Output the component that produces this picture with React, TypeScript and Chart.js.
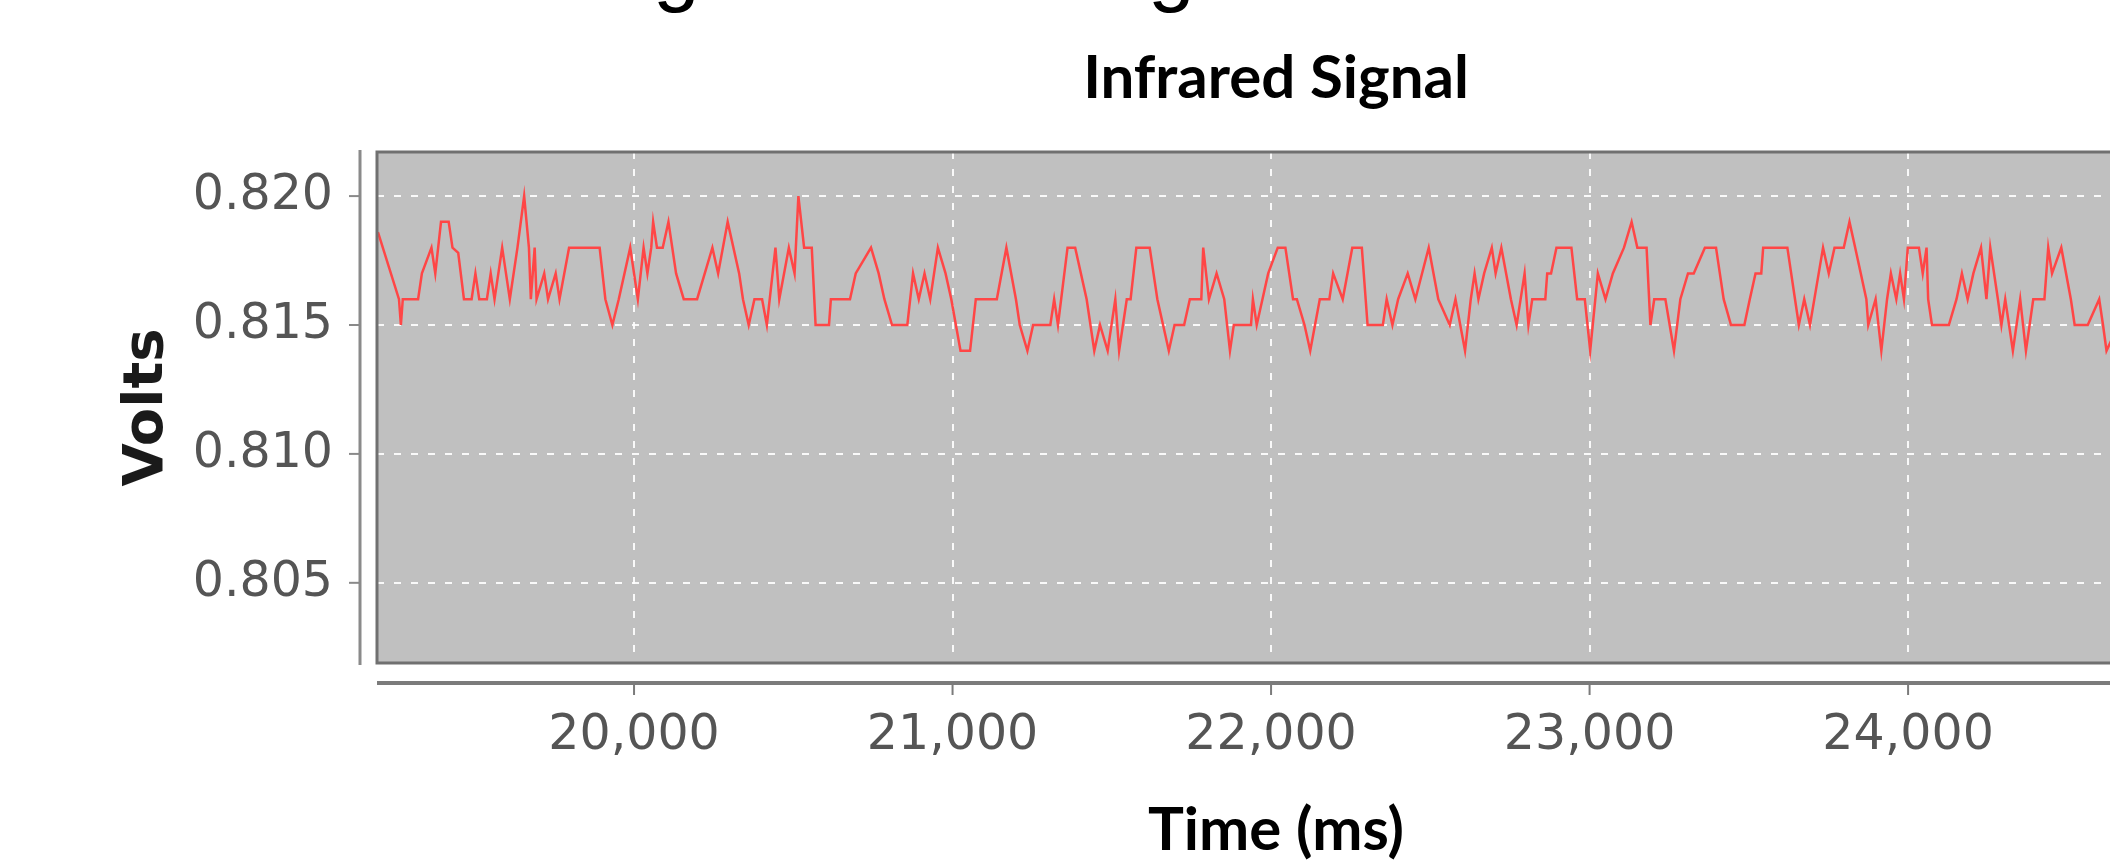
import React, { useEffect, useRef } from 'react';
import { Chart, registerables } from 'chart.js';

Chart.register(...registerables);

// ---- data (time in ms, signal in volts) ----
const timesMs = [
  19196, 19262, 19268, 19274, 19322, 19334, 19364, 19376, 19394, 19418, 19430, 19448, 19466, 19490, 19502, 19514,
  19538, 19550, 19562, 19586, 19610, 19634, 19655, 19670, 19676, 19688, 19694, 19718, 19730, 19754, 19766, 19796,
  19892, 19910, 19932, 19952, 19988, 20012, 20030, 20042, 20054, 20060, 20072, 20090, 20108, 20132, 20156, 20198,
  20246, 20264, 20294, 20330, 20342, 20360, 20378, 20402, 20417, 20444, 20456, 20486, 20504, 20516, 20534, 20558,
  20570, 20612, 20618, 20678, 20696, 20744, 20768, 20786, 20810, 20858, 20876, 20894, 20912, 20930, 20954, 20978,
  20996, 21025, 21055, 21073, 21139, 21169, 21199, 21211, 21235, 21253, 21307, 21319, 21331, 21361, 21385, 21421,
  21445, 21463, 21487, 21511, 21523, 21547, 21559, 21577, 21619, 21643, 21661, 21679, 21697, 21727, 21745, 21781,
  21787, 21805, 21829, 21853, 21871, 21883, 21937, 21943, 21955, 21991, 22021, 22045, 22069, 22081, 22105, 22123,
  22153, 22183, 22195, 22225, 22255, 22285, 22297, 22303, 22351, 22363, 22381, 22399, 22429, 22453, 22495, 22525,
  22561, 22579, 22609, 22627, 22639, 22651, 22669, 22693, 22705, 22723, 22753, 22771, 22796, 22808, 22820, 22861,
  22867, 22879, 22896, 22943, 22961, 22985, 23002, 23026, 23050, 23073, 23108, 23132, 23150, 23179, 23191, 23203,
  23238, 23265, 23285, 23309, 23327, 23362, 23397, 23421, 23444, 23486, 23503, 23521, 23539, 23545, 23621, 23645,
  23657, 23674, 23692, 23733, 23751, 23769, 23798, 23816, 23834, 23869, 23875, 23898, 23916, 23934, 23946, 23963,
  23975, 23987, 23999, 24034, 24046, 24058, 24063, 24075, 24128, 24152, 24169, 24187, 24205, 24229, 24246, 24258,
  24282, 24293, 24305, 24329, 24352, 24370, 24393, 24428, 24440, 24452, 24481, 24511, 24523, 24564, 24600, 24612,
  24623, 24660,
];

const volts = [
  0.8186, 0.816, 0.815, 0.816, 0.816, 0.817, 0.818, 0.817, 0.819, 0.819, 0.818, 0.8178, 0.816, 0.816, 0.817, 0.816,
  0.816, 0.817, 0.816, 0.818, 0.816, 0.818, 0.82, 0.818, 0.816, 0.818, 0.816, 0.817, 0.816, 0.817, 0.816, 0.818,
  0.818, 0.816, 0.815, 0.816, 0.818, 0.816, 0.818, 0.817, 0.818, 0.819, 0.818, 0.818, 0.819, 0.817, 0.816, 0.816,
  0.818, 0.817, 0.819, 0.817, 0.816, 0.815, 0.816, 0.816, 0.815, 0.818, 0.816, 0.818, 0.817, 0.82, 0.818, 0.818,
  0.815, 0.815, 0.816, 0.816, 0.817, 0.818, 0.817, 0.816, 0.815, 0.815, 0.817, 0.816, 0.817, 0.816, 0.818, 0.817,
  0.816, 0.814, 0.814, 0.816, 0.816, 0.818, 0.816, 0.815, 0.814, 0.815, 0.815, 0.816, 0.815, 0.818, 0.818, 0.816,
  0.814, 0.815, 0.814, 0.816, 0.814, 0.816, 0.816, 0.818, 0.818, 0.816, 0.815, 0.814, 0.815, 0.815, 0.816, 0.816,
  0.818, 0.816, 0.817, 0.816, 0.814, 0.815, 0.815, 0.816, 0.815, 0.817, 0.818, 0.818, 0.816, 0.816, 0.815, 0.814,
  0.816, 0.816, 0.817, 0.816, 0.818, 0.818, 0.816, 0.815, 0.815, 0.816, 0.815, 0.816, 0.817, 0.816, 0.818, 0.816,
  0.815, 0.816, 0.814, 0.816, 0.817, 0.816, 0.817, 0.818, 0.817, 0.818, 0.816, 0.815, 0.817, 0.815, 0.816, 0.816,
  0.817, 0.817, 0.818, 0.818, 0.816, 0.816, 0.814, 0.817, 0.816, 0.817, 0.818, 0.819, 0.818, 0.818, 0.815, 0.816,
  0.816, 0.814, 0.816, 0.817, 0.817, 0.818, 0.818, 0.816, 0.815, 0.815, 0.816, 0.817, 0.817, 0.818, 0.818, 0.816,
  0.815, 0.816, 0.815, 0.818, 0.817, 0.818, 0.818, 0.819, 0.818, 0.816, 0.815, 0.816, 0.814, 0.816, 0.817, 0.816,
  0.817, 0.816, 0.818, 0.818, 0.817, 0.818, 0.816, 0.815, 0.815, 0.816, 0.817, 0.816, 0.817, 0.818, 0.816, 0.818,
  0.816, 0.815, 0.816, 0.814, 0.816, 0.814, 0.816, 0.816, 0.818, 0.817, 0.818, 0.816, 0.815, 0.815, 0.816, 0.815,
  0.814, 0.815,
];

const chartTitle = 'Infrared Signal';
const xAxisTitle = 'Time (ms)';
const yAxisTitle = 'Volts';
const xRange = [19193, 24838];
const yRange = [0.80189, 0.82171];
const xTickValues = [20000, 21000, 22000, 23000, 24000];
const yTickValues = [0.805, 0.81, 0.815, 0.82];
// partially visible glyphs of a cropped heading above the chart
const croppedHeadingGlyphs = ['g', 'g'];

const framePlugin = {
  id: 'frame',
  beforeDraw(chart: any) {
    const { ctx, chartArea: a } = chart;
    ctx.save();
    ctx.fillStyle = '#c0c0c0';
    ctx.fillRect(a.left, a.top, a.right - a.left, a.bottom - a.top);
    ctx.restore();
  },
  afterDraw(chart: any) {
    const { ctx, chartArea: a, scales } = chart;
    const line = (x1: number, y1: number, x2: number, y2: number) => {
      ctx.beginPath();
      ctx.moveTo(x1, y1);
      ctx.lineTo(x2, y2);
      ctx.stroke();
    };
    ctx.save();
    // plot frame
    ctx.strokeStyle = '#707070';
    ctx.lineWidth = 3;
    ctx.strokeRect(a.left, a.top, a.right - a.left, a.bottom - a.top);
    // detached y axis line + ticks
    const ax = a.left - 17;
    ctx.strokeStyle = '#8a8a8a';
    ctx.lineWidth = 3;
    line(ax, a.top - 2, ax, a.bottom + 2);
    ctx.lineWidth = 2;
    for (const t of scales.y.ticks) {
      const y = scales.y.getPixelForValue(t.value);
      line(ax - 11, y, ax, y);
    }
    // detached x axis line + ticks
    const ay = a.bottom + 20;
    ctx.strokeStyle = '#7b7b7b';
    ctx.lineWidth = 4;
    line(a.left, ay, a.right, ay);
    ctx.lineWidth = 2;
    for (const t of scales.x.ticks) {
      const x = scales.x.getPixelForValue(t.value);
      line(x, ay, x, ay + 12);
    }
    // cropped heading glyphs at the very top
    ctx.fillStyle = '#000';
    ctx.font = '84px "Liberation Sans"';
    ctx.textBaseline = 'alphabetic';
    ctx.fillText(croppedHeadingGlyphs[0], 653, -4);
    ctx.fillText(croppedHeadingGlyphs[1], 1148, -4);
    ctx.restore();
  },
};

export default function App() {
  const ref = useRef<HTMLCanvasElement>(null);

  useEffect(() => {
    if (!ref.current) return;
    const points = timesMs.map((t, i) => ({ x: t, y: volts[i] }));
    const chart = new Chart(ref.current, {
      type: 'line',
      data: {
        datasets: [
          {
            data: points,
            borderColor: 'rgb(255, 70, 70)',
            borderWidth: 2.5,
            pointRadius: 0,
            tension: 0,
            fill: false,
          },
        ],
      },
      options: {
        responsive: false,
        animation: false,
        devicePixelRatio: 1,
        layout: { padding: { left: 0, right: 25, top: 0, bottom: 0 } },
        plugins: {
          legend: { display: false },
          tooltip: { enabled: false },
          title: {
            display: true,
            text: chartTitle,
            fullSize: false,
            color: '#000',
            font: { family: 'Lato', weight: 'bold', size: 60, lineHeight: 1.2 },
            padding: { top: 43, bottom: 37 },
          },
        },
        scales: {
          x: {
            type: 'linear',
            min: xRange[0],
            max: xRange[1],
            afterFit: (s: any) => {
              s.height = 198;
            },
            afterBuildTicks: (s: any) => {
              s.ticks = xTickValues.map((v) => ({ value: v }));
            },
            ticks: {
              autoSkip: false,
              maxRotation: 0,
              minRotation: 0,
              padding: 44,
              color: '#555',
              font: { family: 'DejaVu Sans', size: 49 },
              callback: (v: any) => Number(v).toLocaleString('en-US'),
            },
            grid: {
              color: 'rgba(255,255,255,0.9)',
              lineWidth: 2,
              drawTicks: false,
            },
            border: { display: false, dash: [7, 10] },
            title: {
              display: true,
              text: xAxisTitle,
              color: '#000',
              font: { family: 'Lato', weight: 'bold', size: 60, lineHeight: 1 },
              padding: { top: 0, bottom: 0 },
            },
          },
          y: {
            type: 'linear',
            min: yRange[0],
            max: yRange[1],
            afterFit: (s: any) => {
              s.width = 377;
            },
            afterBuildTicks: (s: any) => {
              s.ticks = yTickValues.map((v) => ({ value: v }));
            },
            ticks: {
              autoSkip: false,
              padding: 44,
              color: '#555',
              font: { family: 'DejaVu Sans', size: 49 },
              callback: (v: any) => Number(v).toFixed(3),
            },
            grid: {
              color: 'rgba(255,255,255,0.9)',
              lineWidth: 2,
              drawTicks: false,
            },
            border: { display: false, dash: [7, 10] },
            title: {
              display: true,
              text: yAxisTitle,
              color: '#1a1a1a',
              font: { family: 'DejaVu Sans', weight: 'bold', size: 56, lineHeight: 1 },
              padding: { top: 119, bottom: 0 },
            },
          },
        },
      },
      plugins: [framePlugin],
    } as any);
    return () => chart.destroy();
  }, []);

  return (
    <div
      style={{
        position: 'fixed',
        left: 0,
        top: 0,
        width: 2110,
        height: 861,
        overflow: 'hidden',
        background: '#fff',
      }}
    >
      <canvas ref={ref} width={2200} height={861} style={{ display: 'block', width: 2200, height: 861 }} />
    </div>
  );
}
